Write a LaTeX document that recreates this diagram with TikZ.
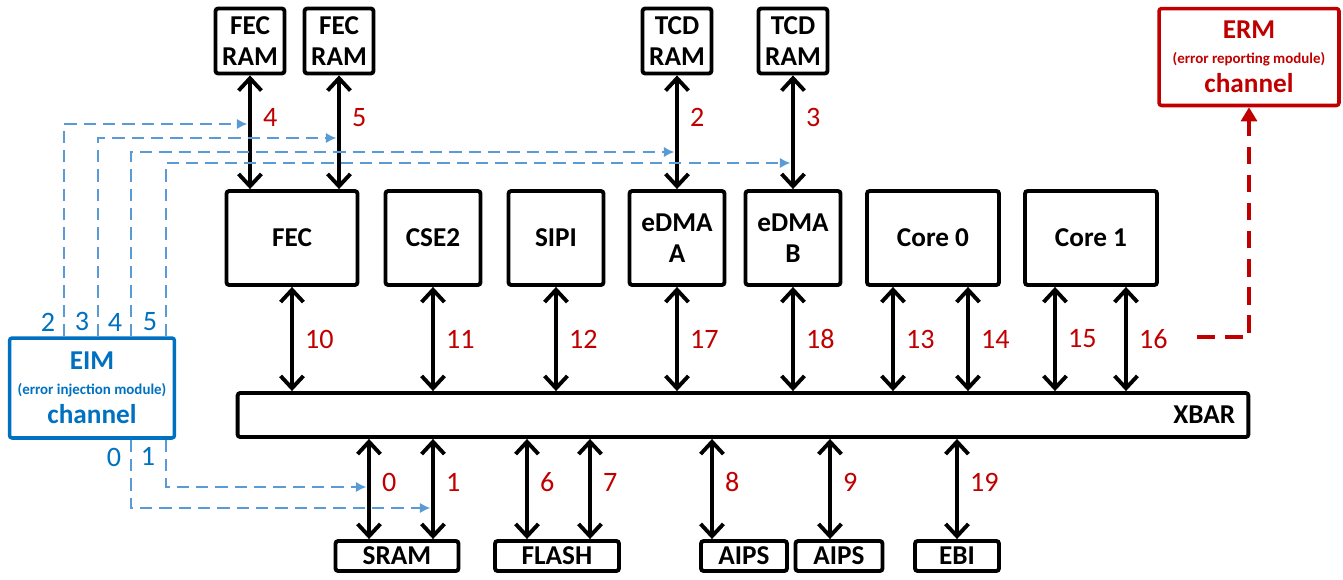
\documentclass[tikz,border=0pt]{standalone}
\usepackage{fontspec}
\setmainfont{Carlito}
\usetikzlibrary{arrows.meta,positioning,calc}
\definecolor{errred}{HTML}{C00000}
\definecolor{eimblue}{HTML}{0070C0}
\definecolor{linkblue}{HTML}{5B9BD5}

\begin{document}
\begin{tikzpicture}[
    x=0.02cm, y=-0.02cm,
    every node/.style={font=\bfseries\fontsize{15.5}{18}\selectfont},
    block/.style={rectangle, draw, line width=2.2pt, rounded corners=1.5pt, align=center, inner sep=0pt},
    bus/.style={{Straight Barb[length=7pt,width=13pt]}-{Straight Barb[length=7pt,width=13pt]}, line width=2.2pt},
    num/.style={text=errred, font=\fontsize{16}{18}\selectfont},
    chan/.style={text=eimblue, font=\fontsize{16}{18}\selectfont},
    inj/.style={linkblue, line width=1.5pt, dash pattern=on 7pt off 4pt, -{Latex[length=6pt,width=6pt]}, shorten >=1.5pt}
]
    \useasboundingbox (0,0) rectangle (1343,579);

    % memories on top
    \node[block, minimum width=1.38cm, minimum height=1.3cm] (fecram1) at (250,41) {FEC\\RAM};
    \node[block, minimum width=1.38cm, minimum height=1.3cm] (fecram2) at (339,41) {FEC\\RAM};
    \node[block, minimum width=1.38cm, minimum height=1.3cm] (tcdram1) at (677,41) {TCD\\RAM};
    \node[block, minimum width=1.38cm, minimum height=1.3cm] (tcdram2) at (793,41) {TCD\\RAM};

    % masters
    \node[block, minimum width=2.62cm, minimum height=1.88cm] (fec) at (292,238) {FEC};
    \node[block, minimum width=1.9cm, minimum height=1.88cm] (cse) at (433,238) {CSE2};
    \node[block, minimum width=1.9cm, minimum height=1.88cm] (sipi) at (556,238) {SIPI};
    \node[block, minimum width=1.9cm, minimum height=1.88cm] (edmaa) at (677,238) {eDMA\\A};
    \node[block, minimum width=1.9cm, minimum height=1.88cm] (edmab) at (793,238) {eDMA\\B};
    \node[block, minimum width=2.64cm, minimum height=1.88cm] (core0) at (933,238) {Core 0};
    \node[block, minimum width=2.64cm, minimum height=1.88cm] (core1) at (1091,238) {Core 1};

    % crossbar
    \node[block, minimum width=20.22cm, minimum height=0.88cm] (xbar) at (743,415) {};
    \node[anchor=east] at ($(xbar.east)+(-9,0)$) {XBAR};

    % slaves
    \node[block, minimum width=2.46cm, minimum height=0.6cm] (sram) at (397,556) {SRAM};
    \node[block, minimum width=2.48cm, minimum height=0.6cm] (flash) at (557,556) {FLASH};
    \node[block, minimum width=1.72cm, minimum height=0.6cm] (aips1) at (744,556) {AIPS};
    \node[block, minimum width=1.74cm, minimum height=0.6cm] (aips2) at (839,556) {AIPS};
    \node[block, minimum width=1.68cm, minimum height=0.6cm] (ebi) at (957,556) {EBI};

    % injection and reporting channels
    \node[block, draw=eimblue, text=eimblue, line width=2pt, minimum width=3.3cm, minimum height=2cm] (eim) at (92,388)
        {EIM\\[-4pt]{\fontsize{8.5}{10}\selectfont (error injection module)}\\[-1pt]channel};
    \node[block, draw=errred, text=errred, line width=2pt, minimum width=3.6cm, minimum height=1.94cm] (erm) at (1249,57)
        {ERM\\[-4pt]{\fontsize{8.5}{10}\selectfont (error reporting module)}\\[-1pt]channel};

    % memory ports
    \draw[bus] (fecram1.south) -- (fecram1.south |- fec.north) node[num, right=3pt, pos=0.37] {4};
    \draw[bus] (fecram2.south) -- (fecram2.south |- fec.north) node[num, right=3pt, pos=0.37] {5};
    \draw[bus] (tcdram1.south) -- (tcdram1.south |- edmaa.north) node[num, right=3pt, pos=0.37] {2};
    \draw[bus] (tcdram2.south) -- (tcdram2.south |- edmab.north) node[num, right=3pt, pos=0.37] {3};

    % master ports
    \draw[bus] (fec.south) -- (fec.south |- xbar.north) node[num, right=3pt, midway] {10};
    \draw[bus] (cse.south) -- (cse.south |- xbar.north) node[num, right=3pt, midway] {11};
    \draw[bus] (sipi.south) -- (sipi.south |- xbar.north) node[num, right=3pt, midway] {12};
    \draw[bus] (edmaa.south) -- (edmaa.south |- xbar.north) node[num, right=3pt, midway] {17};
    \draw[bus] (edmab.south) -- (edmab.south |- xbar.north) node[num, right=3pt, midway] {18};
    \draw[bus] ($(core0.south)+(-40,0)$) -- ($(core0.south |- xbar.north)+(-40,0)$) node[num, right=3pt, midway] {13};
    \draw[bus] ($(core0.south)+(35,0)$) -- ($(core0.south |- xbar.north)+(35,0)$) node[num, right=3pt, midway] {14};
    \draw[bus] ($(core1.south)+(-36,0)$) -- ($(core1.south |- xbar.north)+(-36,0)$) node[num, right=3pt, midway] {15};
    \draw[bus] ($(core1.south)+(35,0)$) -- ($(core1.south |- xbar.north)+(35,0)$) node[num, right=3pt, midway] {16};

    % slave ports
    \draw[bus] (xbar.south -| 369,0) -- (sram.north -| 369,0) node[num, right=3pt, pos=0.43] {0};
    \draw[bus] (xbar.south -| 433,0) -- (sram.north -| 433,0) node[num, right=3pt, pos=0.43] {1};
    \draw[bus] (xbar.south -| 527,0) -- (flash.north -| 527,0) node[num, right=3pt, pos=0.43] {6};
    \draw[bus] (xbar.south -| 590,0) -- (flash.north -| 590,0) node[num, right=3pt, pos=0.43] {7};
    \draw[bus] (xbar.south -| 712,0) -- (aips1.north -| 712,0) node[num, right=3pt, pos=0.43] {8};
    \draw[bus] (xbar.south -| 830,0) -- (aips2.north -| 830,0) node[num, right=3pt, pos=0.43] {9};
    \draw[bus] (xbar.south -| ebi.north) -- (ebi.north) node[num, right=3pt, pos=0.43] {19};

    % error injection paths
    \foreach \px/\py/\dest/\lbl in {64/124/fecram1/2, 98/138/fecram2/3, 131/152/tcdram1/4, 166/163/tcdram2/5}{
        \draw[inj] (eim.north -| \px,0) -- (\px,\py) -- (\dest.south |- 0,\py);
        \node[chan, anchor=south, inner sep=1pt] at ($(eim.north -| \px,0)+(-16,-3)$) {\lbl};
    }
    \coordinate (sram0) at (369,487);
    \coordinate (sram1) at (433,508);
    \draw[inj] (eim.south -| 166,0) -- (166,487) -- (sram0);
    \draw[inj] (eim.south -| 131,0) -- (131,508) -- (sram1);
    \node[chan, anchor=north, inner sep=1pt] at ($(eim.south -| 131,0)+(-17,6)$) {0};
    \node[chan, anchor=north, inner sep=1pt] at ($(eim.south -| 166,0)+(-18,6)$) {1};

    % error reporting path
    \coordinate (rep) at (1197,337);
    \draw[errred, line width=2.2pt, dash pattern=on 10pt off 6pt, -{Triangle[length=8pt,width=9pt]}] (rep) -- (erm.south |- rep) -- (erm.south);
\end{tikzpicture}
\end{document}
